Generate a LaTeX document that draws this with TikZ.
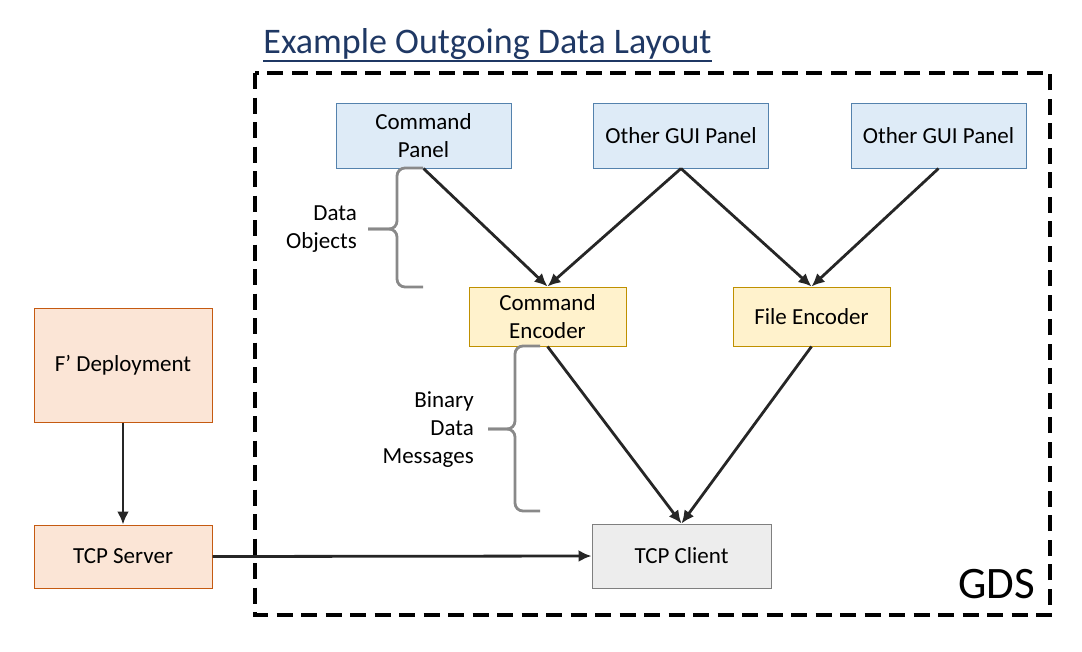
\documentclass[tikz,border=0pt]{standalone}
\usepackage{fontspec}
\setmainfont{Carlito}
\usepackage{tikz}
\usetikzlibrary{
    arrows.meta,
    positioning
}
\definecolor{TitleBlue}{RGB}{31,56,100}
\definecolor{PanelFill}{RGB}{222,235,247}
\definecolor{PanelLine}{RGB}{84,130,173}
\definecolor{EncFill}{RGB}{255,242,204}
\definecolor{EncLine}{RGB}{191,144,0}
\definecolor{FswFill}{RGB}{251,229,214}
\definecolor{FswLine}{RGB}{197,90,17}
\definecolor{ClientFill}{RGB}{237,237,237}
\definecolor{ClientLine}{RGB}{127,127,127}
\definecolor{ArrowGray}{RGB}{38,38,38}
\definecolor{BraceGray}{RGB}{137,137,137}
\newcommand{\boxfont}{\fontsize{23}{28}\selectfont}

\begin{document}
\begin{tikzpicture}[
    x=1pt, y=-1pt,
    box/.style={draw, line width=1pt, align=center, font=\boxfont,
        minimum height=60pt, inner sep=2pt},
    panel/.style={box, fill=PanelFill, draw=PanelLine,
        minimum width=175pt, minimum height=65pt},
    encoder/.style={box, fill=EncFill, draw=EncLine,
        minimum width=157pt, minimum height=59pt},
    flow/.style={-{Latex[length=13pt,width=12pt]}, line width=2.8pt, ArrowGray},
    brace/.style={BraceGray, line width=2.8pt, rounded corners=8pt},
    lbl/.style={font=\boxfont, align=right, anchor=east, inner sep=0pt}
]
\useasboundingbox (0,0) rectangle (1082,651);

% GDS frame
\draw[line width=3.5pt, dash pattern=on 16pt off 8.5pt] (255,73) rectangle (1050,615);
\node[anchor=base east, inner sep=0pt, font=\fontsize{45}{54}\selectfont] (gds) at (1035,598) {GDS};

% Title
\node[anchor=base, inner sep=0pt, TitleBlue, font=\fontsize{36}{43}\selectfont]
    (title) at (487.5,53) {Example Outgoing Data Layout};
\draw[TitleBlue, line width=2pt]
    ([yshift=-8pt]title.base west) -- ([yshift=-8pt]title.base east);

% GUI panels
\node[panel] (cmdpanel) at (423.5,135.5) {Command\\Panel};
\node[panel] (gui1) at (681,135.5) {Other GUI Panel};
\node[panel] (gui2) at (938.5,135.5) {Other GUI Panel};

% Encoders
\node[encoder] (cmdenc) at (547.5,316.5) {Command\\Encoder};
\node[encoder] (fileenc) at (811.5,316.5) {File Encoder};

% Client and flight side
\node[box, fill=ClientFill, draw=ClientLine, minimum width=179pt, minimum height=64pt]
    (tcpclient) at (681.5,556) {TCP Client};
\node[box, fill=FswFill, draw=FswLine, minimum width=178pt, minimum height=114pt]
    (deploy) at (123,365) {F’ Deployment};
\node[box, fill=FswFill, draw=FswLine, minimum width=178pt, minimum height=63pt]
    (tcpserver) at (123,556.5) {TCP Server};

% Data flow
\draw[flow] (cmdpanel.south) -- (cmdenc.north);
\draw[flow] (gui1.south) -- (cmdenc.north);
\draw[flow] (gui1.south) -- (fileenc.north);
\draw[flow] (gui2.south) -- (fileenc.north);
\draw[flow] (cmdenc.south) -- (tcpclient.north);
\draw[flow] (fileenc.south) -- (tcpclient.north);
\draw[flow] (deploy.south) -- (tcpserver.north);
\draw[flow] (tcpserver.east) -- (tcpclient.west);

% Braces
\draw[brace] (423,168) -- (397,168) -- (397,229) -- (368,229);
\draw[brace] (368,229) -- (397,229) -- (397,287) -- (423,287);
\node[lbl] (dataobj) at (357,229) {Data\\Objects};

\draw[brace] (540,346) -- (515,346) -- (515,429) -- (488,429);
\draw[brace] (488,429) -- (515,429) -- (515,511) -- (540,511);
\node[lbl] (binmsg) at (474,430) {Binary\\Data\\Messages};

\end{tikzpicture}
\end{document}
